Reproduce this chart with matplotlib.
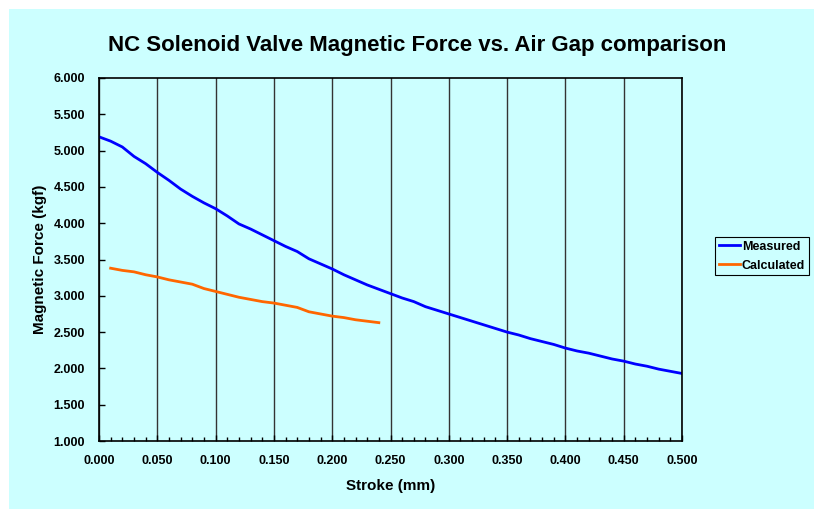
import matplotlib.pyplot as plt
from matplotlib.patches import Rectangle
from matplotlib.ticker import MultipleLocator, FormatStrFormatter

# stroke (mm) and force (kgf)
stroke_measured = [0.000, 0.010, 0.020, 0.030, 0.040, 0.050, 0.060, 0.070, 0.080, 0.090,
                   0.100, 0.110, 0.120, 0.130, 0.140, 0.150, 0.160, 0.170, 0.180, 0.190,
                   0.200, 0.210, 0.220, 0.230, 0.240, 0.250, 0.260, 0.270, 0.280, 0.290,
                   0.300, 0.310, 0.320, 0.330, 0.340, 0.350, 0.360, 0.370, 0.380, 0.390,
                   0.400, 0.410, 0.420, 0.430, 0.440, 0.450, 0.460, 0.470, 0.480, 0.490,
                   0.500]
force_measured = [5.19, 5.13, 5.05, 4.92, 4.82, 4.70, 4.59, 4.47, 4.37, 4.28,
                  4.20, 4.10, 3.99, 3.92, 3.84, 3.76, 3.68, 3.61, 3.51, 3.44,
                  3.37, 3.29, 3.22, 3.15, 3.09, 3.03, 2.97, 2.92, 2.85, 2.80,
                  2.75, 2.70, 2.65, 2.60, 2.55, 2.50, 2.46, 2.41, 2.37, 2.33,
                  2.28, 2.24, 2.21, 2.17, 2.13, 2.10, 2.06, 2.03, 1.99, 1.96,
                  1.93]

stroke_calc = [0.01, 0.02, 0.03, 0.04, 0.05, 0.06, 0.07, 0.08, 0.09, 0.10, 0.11, 0.12,
               0.13, 0.14, 0.15, 0.16, 0.17, 0.18, 0.19, 0.20, 0.21, 0.22, 0.23, 0.24]
force_calc = [3.38, 3.35, 3.33, 3.29, 3.26, 3.22, 3.19, 3.16, 3.10, 3.06, 3.02, 2.98,
              2.95, 2.92, 2.90, 2.87, 2.84, 2.78, 2.75, 2.72, 2.70, 2.67, 2.65, 2.63]

bg = '#CCFFFF'
plt.rcParams['font.family'] = ['Liberation Sans', 'DejaVu Sans']
plt.rcParams['font.weight'] = 'bold'

fig = plt.figure(figsize=(8.14, 5.09), dpi=100)
fig.patch.set_facecolor('white')
# cyan chart area, offset from the top-left corner
fig.patches.append(Rectangle((9 / 814, 0), 1 - 9 / 814, 1 - 9 / 509,
                             transform=fig.transFigure, facecolor=bg,
                             edgecolor='none', zorder=-10))

ax = fig.add_axes([99 / 814, 68 / 509, 583 / 814, 363 / 509])
ax.set_facecolor(bg)

ax.plot(stroke_measured, force_measured, color='#0000FF', lw=2, label='Measured')
ax.plot(stroke_calc, force_calc, color='#FF6600', lw=2, label='Calculated')

ax.set_xlim(0, 0.5)
ax.set_ylim(1, 6)
ax.xaxis.set_major_locator(MultipleLocator(0.05))
ax.xaxis.set_minor_locator(MultipleLocator(0.01))
ax.yaxis.set_major_locator(MultipleLocator(0.5))
ax.xaxis.set_major_formatter(FormatStrFormatter('%.3f'))
ax.yaxis.set_major_formatter(FormatStrFormatter('%.3f'))
ax.tick_params(axis='both', which='major', direction='in', length=4, width=1,
               labelsize=9, pad=10)
ax.tick_params(axis='x', which='minor', direction='in', length=3, width=1)
for lbl in ax.get_xticklabels() + ax.get_yticklabels():
    lbl.set_fontweight('bold')

ax.grid(axis='x', which='major', color='#333333', lw=1)
ax.set_axisbelow(True)
for s in ax.spines.values():
    s.set_linewidth(1.2)
    s.set_color('black')

ax.set_xlabel('Stroke (mm)', fontsize=11, fontweight='bold', labelpad=9)
ax.set_ylabel('Magnetic Force (kgf)', fontsize=11, fontweight='bold', labelpad=5)

fig.text(417 / 814, 1 - 45 / 509, 'NC Solenoid Valve Magnetic Force vs. Air Gap comparison',
         ha='center', va='center', fontsize=16, fontweight='bold')

leg = ax.legend(loc='upper left', bbox_to_anchor=(715 / 814, 1 - 237 / 509),
                bbox_transform=fig.transFigure, fontsize=9, frameon=True,
                fancybox=False, edgecolor='black', facecolor=bg, framealpha=1,
                borderaxespad=0, handlelength=1.7, handletextpad=0.15,
                borderpad=0.3, labelspacing=0.55)
leg.get_frame().set_linewidth(0.8)
for t in leg.get_texts():
    t.set_fontweight('bold')

fig.savefig('out.png', dpi=100, facecolor=fig.get_facecolor())
